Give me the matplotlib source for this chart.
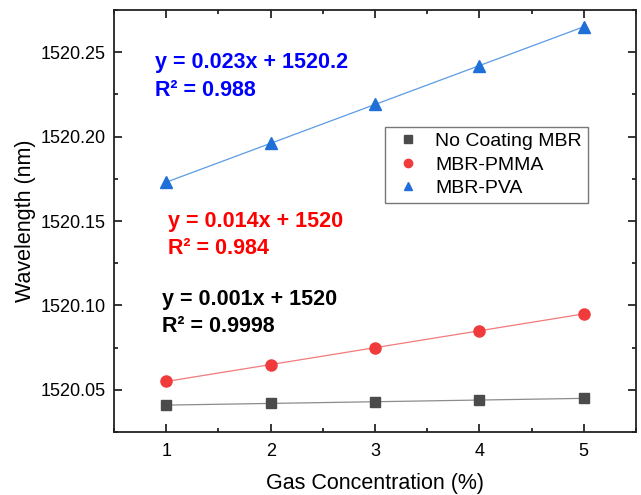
import numpy as np
import matplotlib
matplotlib.use("Agg")
import matplotlib.pyplot as plt

plt.rcParams['font.family'] = ['Liberation Sans', 'DejaVu Sans']

# data
conc = [1, 2, 3, 4, 5]
no_coating = [1520.041, 1520.042, 1520.043, 1520.044, 1520.045]
pmma = [1520.055, 1520.065, 1520.075, 1520.085, 1520.095]
pva = [1520.173, 1520.196, 1520.219, 1520.242, 1520.265]
labels = ['No Coating MBR', 'MBR-PMMA', 'MBR-PVA']

fits = [
    ('y = 0.023x + 1520.2', 'R² = 0.988', '#0000ff', 0.892, 1520.2406, 1520.224),
    ('y = 0.014x + 1520', 'R² = 0.984', '#ff0000', 1.017, 1520.1464, 1520.1304),
    ('y = 0.001x + 1520', 'R² = 0.9998', '#000000', 0.959, 1520.1002, 1520.0842),
]

fig = plt.figure(figsize=(6.41, 4.95), dpi=100)
ax = fig.add_axes([0.178, 0.127, 0.814, 0.853])

ax.plot(conc, no_coating, color='#8c8c8c', lw=0.9, zorder=2)
ax.plot(conc, pmma, color='#f27a7a', lw=0.9, zorder=2)
ax.plot(conc, pva, color='#5b9be6', lw=0.9, zorder=2)

h1, = ax.plot(conc, no_coating, 's', color='#4b4b4b', ms=7, ls='none', zorder=3, label=labels[0])
h2, = ax.plot(conc, pmma, 'o', color='#f03a3c', ms=8, ls='none', zorder=3, label=labels[1])
h3, = ax.plot(conc, pva, '^', color='#1f6fd8', ms=8.5, ls='none', zorder=3, label=labels[2])

for eq, r2, c, x, y1, y2 in fits:
    ax.text(x, y1, eq, color=c, fontsize=15.5, fontweight='bold', va='baseline', ha='left')
    ax.text(x, y2, r2, color=c, fontsize=15.5, fontweight='bold', va='baseline', ha='left')

ax.set_xlim(0.5, 5.5)
ax.set_ylim(1520.025, 1520.275)
ax.set_xticks([1, 2, 3, 4, 5])
ax.set_yticks([1520.05, 1520.10, 1520.15, 1520.20, 1520.25])
ax.set_yticklabels(['1520.05', '1520.10', '1520.15', '1520.20', '1520.25'])
ax.set_xticks([0.5, 1.5, 2.5, 3.5, 4.5, 5.5], minor=True)
ax.set_yticks(np.arange(1520.025, 1520.28, 0.05), minor=True)

ax.tick_params(which='both', direction='in', top=True, right=True, labelsize=13, width=1.1)
ax.tick_params(axis='x', which='major', length=6, pad=8)
ax.tick_params(axis='y', which='major', length=6, pad=6)
ax.tick_params(which='minor', length=3)
for s in ax.spines.values():
    s.set_linewidth(1.3)
    s.set_color('#222222')

ax.set_xlabel('Gas Concentration (%)', fontsize=15.5, labelpad=9)
ax.set_ylabel('Wavelength (nm)', fontsize=15.5, labelpad=3)

leg = ax.legend(handles=[h1, h2, h3], loc='upper left', bbox_to_anchor=(0.519, 0.723),
                borderaxespad=0, fontsize=14, frameon=True, fancybox=False,
                handletextpad=0.5, borderpad=0.3, labelspacing=0.3,
                handlelength=1.8, markerscale=0.75)
leg.get_frame().set_edgecolor('#555555')
leg.get_frame().set_linewidth(1.0)

fig.savefig('out.png', dpi=100)
